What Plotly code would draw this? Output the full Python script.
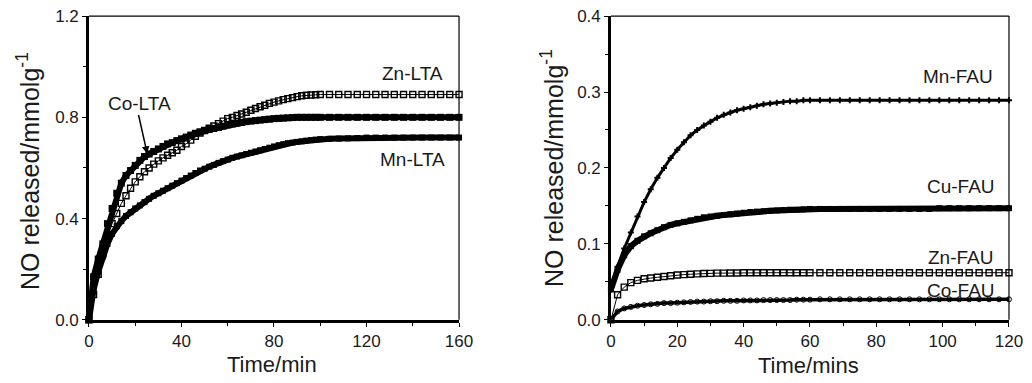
import plotly.graph_objects as go

# ---------------- data ----------------
# Left panel: LTA zeolites, time in min
t_lta = [0, 2, 4, 6, 8, 10, 12, 14, 16, 18, 20, 22, 24, 26, 28, 30, 32, 34, 36, 38,
         40, 42, 44, 46, 48, 50, 52, 54, 56, 58, 60, 62, 64, 66, 68, 70, 72, 74, 76, 78,
         80, 82, 84, 86, 88, 90, 92, 94, 96, 98, 100, 104, 108, 112, 116, 120, 124, 128,
         132, 136, 140, 144, 148, 152, 156, 160]
co_lta = [0.00, 0.17, 0.24, 0.30, 0.38, 0.44, 0.50, 0.54, 0.57, 0.59, 0.61, 0.63, 0.645,
          0.655, 0.665, 0.675, 0.685, 0.695, 0.700, 0.708, 0.715, 0.722, 0.730, 0.737,
          0.743, 0.748, 0.752, 0.756, 0.760, 0.765, 0.770, 0.774, 0.777, 0.780, 0.783,
          0.785, 0.787, 0.789, 0.791, 0.793, 0.795, 0.796, 0.797, 0.798, 0.799, 0.800,
          0.800, 0.800, 0.800, 0.800, 0.800, 0.800, 0.800, 0.800, 0.800, 0.800, 0.800,
          0.800, 0.800, 0.800, 0.800, 0.800, 0.800, 0.800, 0.800, 0.800]
zn_lta = [0.00, 0.10, 0.18, 0.26, 0.33, 0.38, 0.42, 0.46, 0.49, 0.52, 0.545, 0.565, 0.585,
          0.600, 0.615, 0.628, 0.640, 0.650, 0.660, 0.670, 0.685, 0.695, 0.710, 0.725,
          0.738, 0.748, 0.757, 0.766, 0.775, 0.785, 0.795, 0.800, 0.807, 0.813, 0.820,
          0.828, 0.835, 0.842, 0.848, 0.855, 0.860, 0.865, 0.870, 0.874, 0.878, 0.882,
          0.885, 0.887, 0.888, 0.889, 0.890, 0.890, 0.890, 0.890, 0.890, 0.890, 0.890,
          0.890, 0.890, 0.890, 0.890, 0.890, 0.890, 0.890, 0.890, 0.890]
mn_lta = [0.00, 0.12, 0.19, 0.25, 0.30, 0.34, 0.37, 0.39, 0.41, 0.425, 0.44, 0.452, 0.465,
          0.478, 0.490, 0.500, 0.510, 0.520, 0.530, 0.540, 0.550, 0.560, 0.570, 0.580,
          0.590, 0.597, 0.605, 0.612, 0.620, 0.627, 0.633, 0.640, 0.645, 0.650, 0.655,
          0.660, 0.665, 0.670, 0.675, 0.680, 0.685, 0.690, 0.694, 0.698, 0.700, 0.703,
          0.705, 0.708, 0.710, 0.712, 0.714, 0.715, 0.716, 0.717, 0.718, 0.720, 0.720,
          0.720, 0.720, 0.720, 0.720, 0.720, 0.720, 0.720, 0.720, 0.720]

# Right panel: FAU zeolites, time in mins
t_fau = [0, 2, 4, 6, 8, 10, 12, 14, 16, 18, 20, 22, 24, 26, 28, 30, 32, 34, 36, 38, 40,
         42, 44, 46, 48, 50, 52, 54, 56, 58, 60, 63, 66, 69, 72, 75, 78, 81, 84, 87, 90,
         93, 96, 99, 102, 105, 108, 111, 114, 117, 120]
mn_fau = [0.040, 0.070, 0.094, 0.115, 0.136, 0.155, 0.172, 0.187, 0.200, 0.213, 0.224,
          0.234, 0.243, 0.250, 0.256, 0.261, 0.266, 0.270, 0.273, 0.276, 0.278, 0.280,
          0.282, 0.284, 0.285, 0.286, 0.287, 0.288, 0.288, 0.289, 0.289, 0.289, 0.289,
          0.289, 0.289, 0.289, 0.289, 0.289, 0.289, 0.289, 0.289, 0.289, 0.289, 0.289,
          0.289, 0.289, 0.289, 0.289, 0.289, 0.289, 0.289]
cu_fau = [0.040, 0.066, 0.085, 0.097, 0.104, 0.110, 0.114, 0.118, 0.122, 0.125, 0.127,
          0.129, 0.131, 0.133, 0.135, 0.136, 0.137, 0.138, 0.139, 0.140, 0.141, 0.142,
          0.1425, 0.143, 0.1435, 0.144, 0.1445, 0.145, 0.145, 0.1455, 0.146, 0.146, 0.146,
          0.146, 0.146, 0.146, 0.146, 0.146, 0.146, 0.146, 0.146, 0.146, 0.146, 0.147,
          0.147, 0.147, 0.147, 0.147, 0.147, 0.147, 0.147]
zn_fau = [0.000, 0.033, 0.043, 0.049, 0.052, 0.054, 0.055, 0.056, 0.057, 0.058, 0.059,
          0.0595, 0.060, 0.0605, 0.061, 0.0612, 0.0615, 0.0615, 0.0617, 0.0617, 0.062,
          0.062, 0.062, 0.062, 0.062, 0.062, 0.062, 0.062, 0.062, 0.062, 0.062, 0.062,
          0.062, 0.062, 0.062, 0.062, 0.062, 0.062, 0.062, 0.062, 0.062, 0.062, 0.062,
          0.062, 0.062, 0.062, 0.062, 0.062, 0.062, 0.062, 0.062]
co_fau = [0.000, 0.011, 0.015, 0.017, 0.0185, 0.0195, 0.0205, 0.021, 0.022, 0.022, 0.0225,
          0.023, 0.0235, 0.024, 0.024, 0.0245, 0.0245, 0.025, 0.025, 0.025, 0.0255, 0.0255,
          0.0255, 0.026, 0.026, 0.026, 0.026, 0.026, 0.0265, 0.0265, 0.0265, 0.027, 0.027,
          0.027, 0.027, 0.027, 0.027, 0.027, 0.027, 0.027, 0.027, 0.027, 0.027, 0.027,
          0.027, 0.027, 0.027, 0.027, 0.027, 0.027, 0.027]

x_title_left = "Time/min"
x_title_right = "Time/mins"
y_title = "NO released/mmolg<sup>-1</sup>"

# ---------------- figure ----------------
FONT = "Liberation Sans, Arial, sans-serif"
INK = "#1a1a1a"

fig = go.Figure()

def add(x, y, xa, ya, line_w, msym, msize, mline=0, mcolor="black"):
    fig.add_trace(go.Scatter(
        x=x, y=y, xaxis=xa, yaxis=ya, mode="lines+markers", cliponaxis=False,
        line=dict(color="black", width=line_w),
        marker=dict(symbol=msym, size=msize, color=mcolor,
                    line=dict(color="black", width=mline)),
        showlegend=False))

# left panel
add(t_lta, mn_lta, "x", "y", 6, "square", 6)
add(t_lta, co_lta, "x", "y", 6, "square", 7)
add(t_lta, zn_lta, "x", "y", 1, "square-open", 6, mline=1.4)

# right panel
add(t_fau, co_fau, "x2", "y2", 3.5, "circle-open", 5, mline=1)
add(t_fau, zn_fau, "x2", "y2", 1, "square-open", 6, mline=1.4)
add(t_fau, cu_fau, "x2", "y2", 6, "square", 6)
add(t_fau, mn_fau, "x2", "y2", 3, "cross", 5)

Y_DOM = [0.165, 0.958]
axis_common = dict(showgrid=False, zeroline=False, showline=True, linecolor="black",
                   linewidth=2.5, ticks="outside", ticklen=4, tickwidth=1.3,
                   tickcolor="black", automargin=False,
                   tickfont=dict(family=FONT, size=17, color=INK))

fig.update_layout(
    template="none",
    width=1032, height=383, paper_bgcolor="white", plot_bgcolor="white",
    margin=dict(l=0, r=0, t=0, b=0, pad=0), showlegend=False,
    xaxis=dict(domain=[0.0862, 0.4448], range=[0, 160], tick0=0, dtick=40,
               minor=dict(dtick=20, ticks="outside", ticklen=3, tickcolor="black"),
               anchor="y", **axis_common),
    yaxis=dict(domain=Y_DOM, range=[0, 1.2], tick0=0, dtick=0.4, tickformat=".1f",
               minor=dict(dtick=0.2, ticks="outside", ticklen=3, tickcolor="black"),
               anchor="x", **axis_common),
    xaxis2=dict(domain=[0.592, 0.9777], range=[0, 120], tick0=0, dtick=20,
                minor=dict(dtick=10, ticks="outside", ticklen=3, tickcolor="black"),
                anchor="y2", **axis_common),
    yaxis2=dict(domain=Y_DOM, range=[0, 0.4], tick0=0, dtick=0.1, tickformat=".1f",
                minor=dict(dtick=0.05, ticks="outside", ticklen=3, tickcolor="black"),
                anchor="x2", **axis_common),
)

# thin top / right frame lines
for xr, yr in (("x", "y"), ("x2", "y2")):
    fig.add_shape(type="line", xref=f"{xr} domain", yref=f"{yr} domain",
                  x0=0, x1=1, y0=1, y1=1, line=dict(color="black", width=1.2))
    fig.add_shape(type="line", xref=f"{xr} domain", yref=f"{yr} domain",
                  x0=1, x1=1, y0=0, y1=1, line=dict(color="black", width=1.2))

# axis titles
ctr = dict(xanchor="center", yanchor="middle", showarrow=False,
           xref="paper", yref="paper")
tf = dict(family=FONT, size=22, color=INK)
fig.add_annotation(text=x_title_left, x=272 / 1032, y=1 - 364 / 383, font=tf, **ctr)
fig.add_annotation(text=x_title_right, x=808 / 1032, y=1 - 365 / 383, font=tf, **ctr)
yf = dict(family=FONT, size=25, color=INK)
fig.add_annotation(text=y_title, textangle=-90, x=28 / 1032, y=1 - 171 / 383,
                   font=yf, **ctr)
fig.add_annotation(text=y_title, textangle=-90, x=552 / 1032, y=1 - 168 / 383,
                   font=yf, **ctr)

# series labels
lf = dict(family=FONT, size=19, color=INK)
for txt, x, y, xr, yr in [("Zn-LTA", 140, 0.974, "x", "y"),
                          ("Co-LTA", 22, 0.855, "x", "y"),
                          ("Mn-LTA", 140, 0.634, "x", "y"),
                          ("Mn-FAU", 104.6, 0.32, "x2", "y2"),
                          ("Cu-FAU", 105.5, 0.175, "x2", "y2"),
                          ("Zn-FAU", 105.5, 0.0816, "x2", "y2"),
                          ("Co-FAU", 105.5, 0.039, "x2", "y2")]:
    fig.add_annotation(text=txt, x=x, y=y, xref=xr, yref=yr, showarrow=False,
                       xanchor="center", yanchor="middle", font=lf)

# arrow pointing to Co-LTA curve
fig.add_annotation(text="", x=25.2, y=0.656, ax=21.3, ay=0.815, xref="x", yref="y",
                   axref="x", ayref="y", showarrow=True, arrowhead=2, arrowsize=1,
                   arrowwidth=1.5, arrowcolor="black", standoff=0, startstandoff=0)

fig.write_html("out.html")
